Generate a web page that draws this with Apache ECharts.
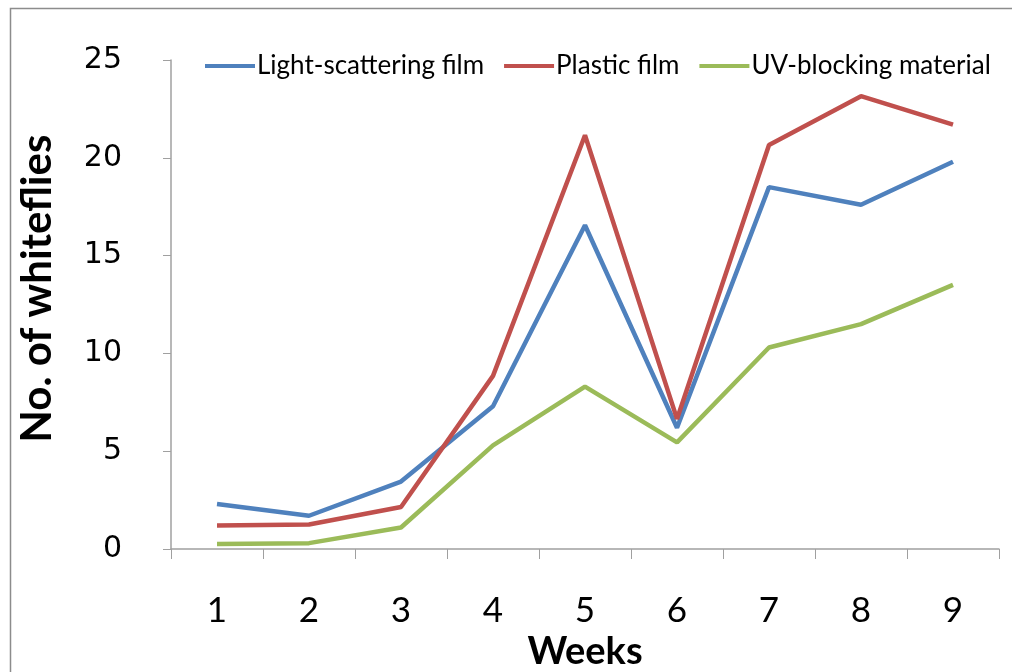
<!DOCTYPE html>
<html><head><meta charset="utf-8">
<script src="https://cdn.jsdelivr.net/npm/echarts@6/dist/echarts.min.js"></script>
<style>html,body{margin:0;padding:0;background:#fff}#c{width:1012px;height:672px}</style>
</head><body><div id="c"></div>
<script>
const weeks = ['1','2','3','4','5','6','7','8','9'];
const lightScattering = [2.3, 1.7, 3.45, 7.3, 16.55, 6.2, 18.5, 17.6, 19.8];
const plasticFilm = [1.2, 1.25, 2.15, 8.85, 21.15, 6.65, 20.65, 23.15, 21.7];
const uvBlocking = [0.25, 0.3, 1.1, 5.3, 8.3, 5.45, 10.3, 11.5, 13.5];
const seriesNames = ['Light-scattering film', 'Plastic film', 'UV-blocking material'];
const colors = ['#4F81BD', '#C0504D', '#9BBB59'];
const font = 'Lato, "Open Sans", sans-serif';
const chart = echarts.init(document.getElementById('c'));
const mk = (name, data, color) => ({
  name, type: 'line', data, symbol: 'none', smooth: false,
  lineStyle: {color, width: 4.5}, itemStyle: {color}
});
chart.setOption({
  animation: false,
  graphic: [{type: 'rect', shape: {x: 10.5, y: 8.5, width: 1010, height: 700},
    style: {fill: 'none', stroke: '#8c8c8c', lineWidth: 1.5}}],
  legend: {
    top: 48, left: 200, itemWidth: 50, itemHeight: 4, itemGap: 20,
    icon: 'rect',
    textStyle: {fontFamily: font, fontSize: 26, color: '#000', padding: [0,0,0,-3]},
    data: seriesNames
  },
  grid: {left: 171, right: 13, top: 60, bottom: 123, containLabel: false, outerBoundsMode: 'none'},
  xAxis: {
    type: 'category', data: weeks, boundaryGap: true,
    name: 'Weeks', nameLocation: 'middle', nameGap: 80,
    nameTextStyle: {fontFamily: font, fontSize: 38, fontWeight: 'bold', color: '#000'},
    axisLine: {lineStyle: {color: '#a0a0a0', width: 1.5}},
    axisTick: {show: true, length: 10, lineStyle: {color: '#a0a0a0'}},
    axisLabel: {fontFamily: font, fontSize: 35, color: '#000', margin: 44},
    splitLine: {show: false}
  },
  yAxis: {
    type: 'value', min: 0, max: 25, interval: 5,
    name: 'No. of whiteflies', nameLocation: 'middle', nameGap: 113, nameRotate: 90,
    nameTextStyle: {fontFamily: font, fontSize: 42, fontWeight: 'bold', color: '#000', padding: [0,0,0,32]},
    axisLine: {show: true, lineStyle: {color: '#a0a0a0', width: 1.5}},
    axisTick: {show: true, length: 8, lineStyle: {color: '#a0a0a0'}},
    axisLabel: {fontFamily: '"DejaVu Sans", sans-serif', fontSize: 30, color: '#000', margin: 49},
    splitLine: {show: false}
  },
  series: [
    mk(seriesNames[0], lightScattering, colors[0]),
    mk(seriesNames[1], plasticFilm, colors[1]),
    mk(seriesNames[2], uvBlocking, colors[2])
  ]
});
</script></body></html>
